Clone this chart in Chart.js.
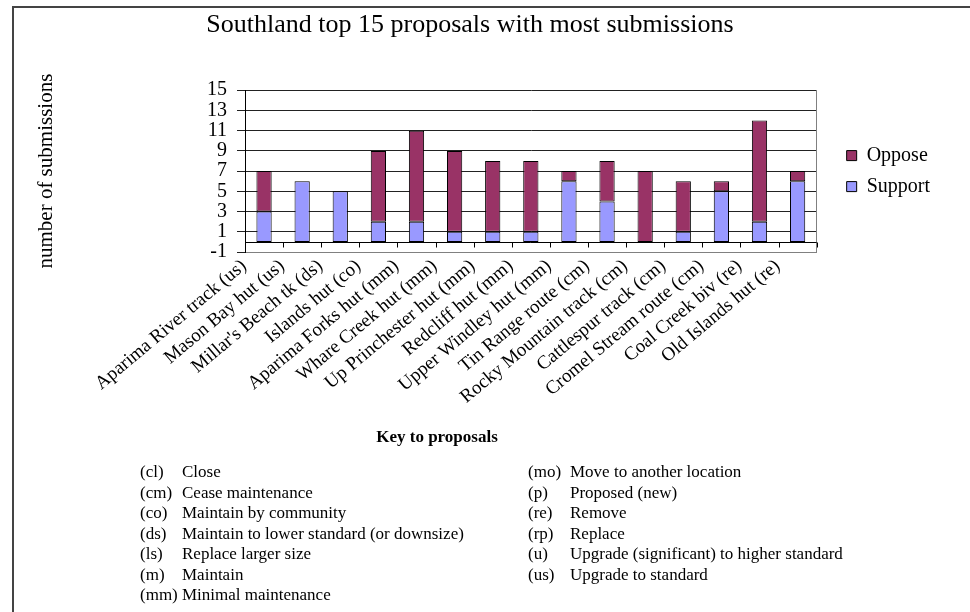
<!DOCTYPE html>
<html>
<head>
<meta charset="utf-8">
<script src="https://cdn.jsdelivr.net/npm/chart.js@4.4.0/dist/chart.umd.min.js"></script>
<style>
  body { margin: 0; background: #fff; }
  #wrap { position: relative; width: 970px; height: 612px; overflow: hidden; font-family: 'Liberation Serif', 'Times New Roman', serif; }
  #frame { position: absolute; left: 12px; top: 6px; width: 980px; height: 620px; border-left: 2px solid #444; border-top: 2px solid #444; }
  #chart { position: absolute; left: 0; top: 0; }
  .key-title { position: absolute; left: 337px; width: 200px; top: 427px; text-align: center; font-weight: bold; font-size: 17px; }
  .key-col { position: absolute; top: 462px; font-size: 17px; line-height: 20.5px; }
  .key-col div { white-space: nowrap; }
  .key-col span { display: inline-block; width: 42px; }
</style>
</head>
<body>
<div id="wrap">
  <div id="frame"></div>
  <canvas id="chart" width="970" height="612"></canvas>
  <div class="key-title">Key to proposals</div>
  <div class="key-col" style="left:140px">
    <div><span>(cl)</span>Close</div>
    <div><span>(cm)</span>Cease maintenance</div>
    <div><span>(co)</span>Maintain by community</div>
    <div><span>(ds)</span>Maintain to lower standard (or downsize)</div>
    <div><span>(ls)</span>Replace larger size</div>
    <div><span>(m)</span>Maintain</div>
    <div><span>(mm)</span>Minimal maintenance</div>
  </div>
  <div class="key-col" style="left:528px">
    <div><span>(mo)</span>Move to another location</div>
    <div><span>(p)</span>Proposed (new)</div>
    <div><span>(re)</span>Remove</div>
    <div><span>(rp)</span>Replace</div>
    <div><span>(u)</span>Upgrade (significant) to higher standard</div>
    <div><span>(us)</span>Upgrade to standard</div>
  </div>
</div>
<script>
var categories = [
    'Aparima River track (us)', 'Mason Bay hut (us)', "Millar's Beach tk (ds)", 'Islands hut (co)',
    'Aparima Forks hut (mm)', 'Whare Creek hut (mm)', 'Up Princhester hut (mm)', 'Redcliff hut (mm)',
    'Upper Windley hut (mm)', 'Tin Range route (cm)', 'Rocky Mountain track (cm)', 'Cattlespur track (cm)',
    'Cromel Stream route (cm)', 'Coal Creek biv (re)', 'Old Islands hut (re)'
];
var support = [3, 6, 5, 2, 2, 1, 1, 1, 6, 4, 0, 1, 5, 2, 6];
var oppose  = [4, 0, 0, 7, 9, 8, 7, 7, 1, 4, 7, 5, 1, 10, 1];
var yMin = -1, yMax = 15, yStep = 2;

Chart.defaults.font.family = "'Liberation Serif', 'Times New Roman', serif";
Chart.defaults.color = '#000';

// category axis sits on 0, with ticks between the categories
var zeroAxis = {
    id: 'zeroAxis',
    beforeDatasetsDraw: function(chart) {
        var ctx = chart.ctx, area = chart.chartArea;
        var x = chart.scales.x, y = chart.scales.y;
        var y0 = Math.round(y.getPixelForValue(0)) + 0.5;
        ctx.save();
        ctx.strokeStyle = '#000';
        ctx.lineWidth = 1;
        ctx.beginPath();
        ctx.moveTo(area.left, y0);
        ctx.lineTo(area.right, y0);
        for (var i = 0; i <= categories.length; i++) {
            var px = Math.round(x.getPixelForValue(i - 0.5)) + 0.5;
            ctx.moveTo(px, y0);
            ctx.lineTo(px, y0 + 5);
        }
        ctx.stroke();
        ctx.restore();
    }
};

var ctx = document.getElementById('chart').getContext('2d');
var chart = new Chart(ctx, {
    type: 'bar',
    data: {
        labels: categories,
        datasets: [{
            label: 'Support',
            data: support,
            backgroundColor: '#9999FF',
            borderColor: '#000',
            borderWidth: 1,
            borderSkipped: false
        }, {
            label: 'Oppose',
            data: oppose,
            backgroundColor: '#993366',
            borderColor: '#000',
            borderWidth: 1,
            borderSkipped: false
        }]
    },
    options: {
        responsive: false,
        animation: false,
        categoryPercentage: 1.0,
        barPercentage: 0.4,
        layout: { padding: { left: 0, right: 30, top: 0, bottom: 0 } },
        plugins: {
            title: {
                display: true,
                text: 'Southland top 15 proposals with most submissions',
                font: { size: 26, weight: 'normal' },
                padding: { top: 10, bottom: 49 }
            },
            legend: {
                position: 'right',
                fullSize: false,
                reverse: true,
                labels: { boxWidth: 10, boxHeight: 10, padding: 11, font: { size: 20 } }
            },
            tooltip: { enabled: false }
        },
        scales: {
            x: {
                stacked: true,
                afterFit: function(s) { s.height = 360; },
                grid: { display: false, drawTicks: false },
                border: { display: true, color: '#808080' },
                ticks: { autoSkip: false, minRotation: 40, maxRotation: 40, labelOffset: -20, padding: 3, font: { size: 19 } }
            },
            y: {
                stacked: true,
                min: yMin,
                max: yMax,
                afterFit: function(s) { s.width = 245; },
                grid: { color: '#222', tickLength: 8 },
                border: { color: '#000' },
                ticks: { stepSize: yStep, autoSkip: false, padding: 10, font: { size: 20, lineHeight: 1 } },
                title: { display: true, text: 'number of submissions', font: { size: 21 }, padding: { top: 34, bottom: 4 } }
            },
            edge: {
                position: 'right',
                afterFit: function(s) { s.width = 19; },
                grid: { display: false, drawTicks: false },
                border: { display: true, color: '#808080' },
                ticks: { display: false }
            }
        }
    },
    plugins: [zeroAxis]
});
</script>
</body>
</html>
